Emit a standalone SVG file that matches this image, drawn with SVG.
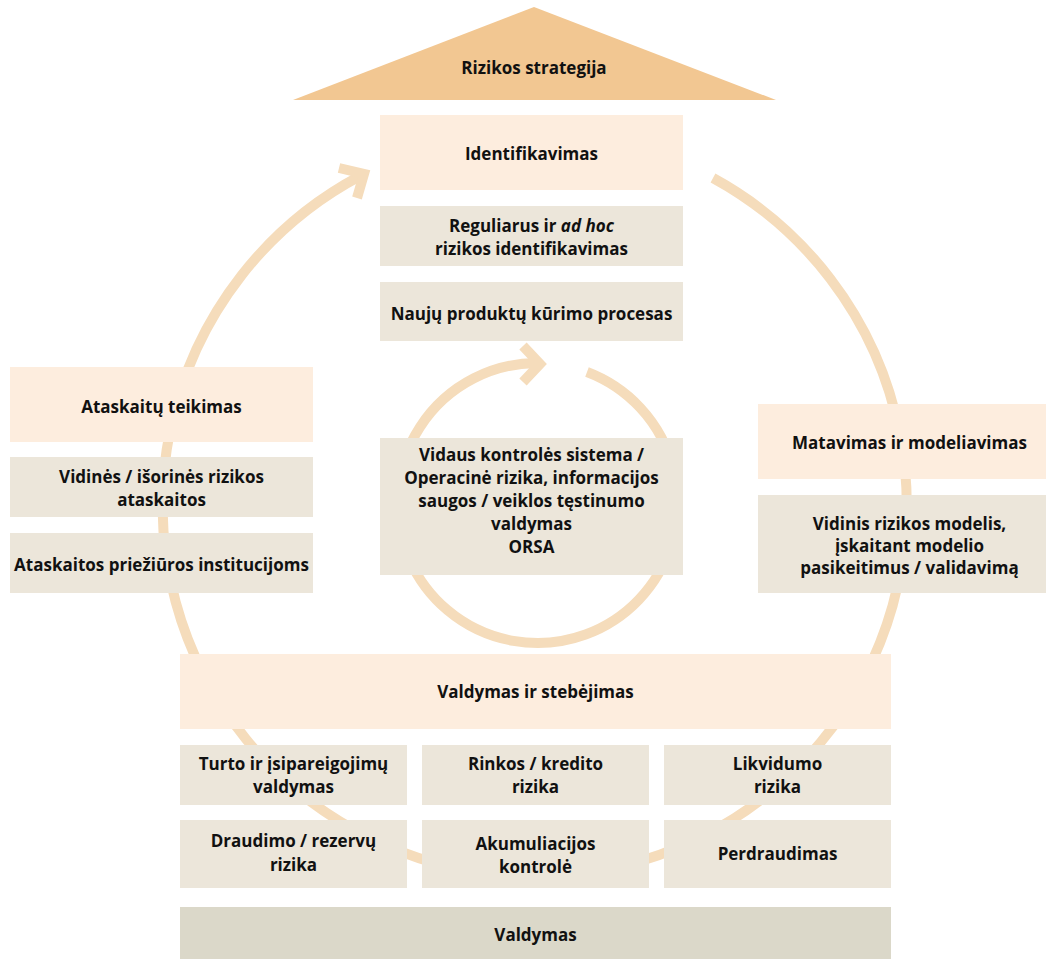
<svg xmlns="http://www.w3.org/2000/svg" width="1046" height="959" viewBox="0 0 1046 959">
<style>
.peach{fill:#FDEDDE}
.beige{fill:#ECE6DA}
.dark{fill:#DBD8C9}
.tri{fill:#F2C792}
.arc{fill:none;stroke:#F5DCBB;stroke-width:10}
.head{fill:none;stroke:#F5DCBB;stroke-width:10;stroke-linejoin:miter;stroke-linecap:butt}
text{font-family:"Open Sans","Liberation Sans",sans-serif;font-weight:700;font-size:17px;fill:#111;text-anchor:middle}
</style>
<rect width="1046" height="959" fill="#fff"/>
<g id="connectors">
<path class="arc" d="M713,178 A372,372 0 1 1 360,176"/>
<polyline class="head" points="339,168 364,174 357,198"/>
<path class="arc" d="M587,372 A140,140 0 1 1 536,363"/>
<polyline class="head" points="523,346 540,364 523,382"/>
</g>
<g id="strategija">
<polygon class="tri" points="534,7 776,100 293,100"/>
<text x="534" y="74">Rizikos strategija</text>
</g>
<g id="identifikavimas">
<rect class="peach" x="380" y="115" width="303" height="75"/>
<text x="531.5" y="160">Identifikavimas</text>
</g>
<g id="reguliarus">
<rect class="beige" x="380" y="206" width="303" height="60"/>
<text x="531.5" y="232">Reguliarus ir <tspan font-style="italic">ad hoc</tspan></text>
<text x="531.5" y="255">rizikos identifikavimas</text>
</g>
<g id="produktai">
<rect class="beige" x="380" y="282" width="303" height="59"/>
<text x="531.5" y="320">Naujų produktų kūrimo procesas</text>
</g>
<g id="vidaus">
<rect class="beige" x="380" y="438" width="303" height="137"/>
<text x="531.5" y="461">Vidaus kontrolės sistema /</text>
<text x="531.5" y="484">Operacinė rizika, informacijos</text>
<text x="531.5" y="507">saugos / veiklos tęstinumo</text>
<text x="531.5" y="530">valdymas</text>
<text x="531.5" y="553">ORSA</text>
</g>
<g id="ataskaitu">
<rect class="peach" x="10" y="367" width="303" height="75"/>
<text x="161.5" y="413">Ataskaitų teikimas</text>
</g>
<g id="vidines">
<rect class="beige" x="10" y="457" width="303" height="60"/>
<text x="161.5" y="483">Vidinės / išorinės rizikos</text>
<text x="161.5" y="506">ataskaitos</text>
</g>
<g id="prieziuros">
<rect class="beige" x="10" y="533" width="303" height="60"/>
<text x="161.5" y="571">Ataskaitos priežiūros institucijoms</text>
</g>
<g id="matavimas">
<rect class="peach" x="758" y="404" width="303" height="75"/>
<text x="909.5" y="449">Matavimas ir modeliavimas</text>
</g>
<g id="vidinis">
<rect class="beige" x="758" y="495" width="303" height="98"/>
<text x="909.5" y="530">Vidinis rizikos modelis,</text>
<text x="909.5" y="552">įskaitant modelio</text>
<text x="909.5" y="574">pasikeitimus / validavimą</text>
</g>
<g id="valdymas-stebejimas">
<rect class="peach" x="180" y="654" width="711" height="75"/>
<text x="535.5" y="698">Valdymas ir stebėjimas</text>
</g>
<g id="turto">
<rect class="beige" x="180" y="745" width="227" height="60"/>
<text x="293.5" y="770">Turto ir įsipareigojimų</text>
<text x="293.5" y="793">valdymas</text>
</g>
<g id="rinkos">
<rect class="beige" x="422" y="745" width="227" height="60"/>
<text x="535.5" y="770">Rinkos / kredito</text>
<text x="535.5" y="793">rizika</text>
</g>
<g id="likvidumo">
<rect class="beige" x="664" y="745" width="227" height="60"/>
<text x="777.5" y="770">Likvidumo</text>
<text x="777.5" y="793">rizika</text>
</g>
<g id="draudimo">
<rect class="beige" x="180" y="820" width="227" height="68"/>
<text x="293.5" y="847">Draudimo / rezervų</text>
<text x="293.5" y="871">rizika</text>
</g>
<g id="akumuliacijos">
<rect class="beige" x="422" y="820" width="227" height="68"/>
<text x="535.5" y="850">Akumuliacijos</text>
<text x="535.5" y="873">kontrolė</text>
</g>
<g id="perdraudimas">
<rect class="beige" x="664" y="820" width="227" height="68"/>
<text x="777.5" y="860">Perdraudimas</text>
</g>
<g id="valdymas">
<rect class="dark" x="180" y="907" width="711" height="60"/>
<text x="535.5" y="941">Valdymas</text>
</g>
</svg>
